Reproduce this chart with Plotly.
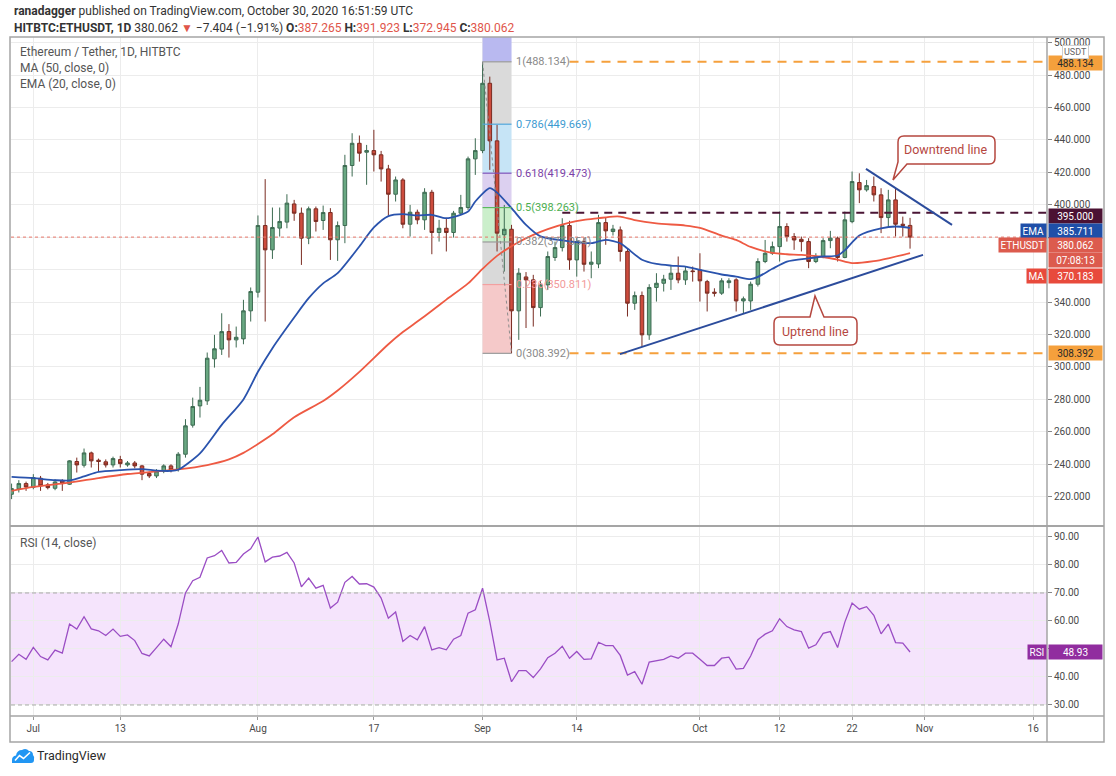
import plotly.graph_objects as go
import pandas as pd

# ---------------- data ----------------
dates = pd.date_range("2020-06-28", "2020-10-30", freq="D").strftime("%Y-%m-%d").tolist()

opens = [221.5, 224.8, 228.1,
         225.8, 231.4, 227.3, 225.2, 229.7, 227.7, 241.7, 239.4, 247.0, 242.5,
         241.5, 239.6, 242.9, 239.6, 240.8, 239.0, 234.3, 232.8, 235.9, 239.0,
         236.9, 246.2, 264.1, 276.0, 279.1, 305.0, 311.0, 321.8, 316.7, 317.3,
         334.6,
         346.1, 387.2, 372.2, 385.6, 389.3, 400.5, 394.8, 379.4, 397.5, 390.3,
         395.2, 378.4, 387.2, 424.2, 437.9, 432.4, 433.4, 430.8, 422.1, 406.5,
         415.3, 388.0, 395.4, 390.7, 407.7, 382.9, 385.5, 382.9, 394.8, 398.3,
         428.3,
         433.4, 474.9, 439.4, 381.5, 384.9, 334.6, 355.5, 353.7, 336.6, 350.6,
         367.5, 373.6, 387.2, 366.0, 377.3, 363.3, 363.5, 389.0, 383.5, 384.5,
         371.2, 339.3, 344.0, 319.8, 349.0, 351.6, 354.1, 357.8, 353.7, 359.2,
         359.8, 352.6, 346.1, 345.5, 352.0, 353.7, 340.7, 340.7, 351.0, 365.0,
         370.1, 374.2, 386.6, 380.4, 378.7, 377.3, 365.0, 368.1, 377.9, 379.4,
         367.5, 389.6, 413.7, 409.2, 411.2, 406.1, 392.1, 403.0, 388.0, 387.265]

highs = [228.1, 230.2, 229.3,
         233.9, 232.8, 228.5, 230.8, 230.8, 242.5, 244.1, 249.7, 247.8, 243.5,
         243.0, 244.7, 245.2, 242.0, 242.0, 239.6, 235.5, 237.0, 240.0, 240.0,
         247.5, 267.8, 281.1, 287.7, 308.9, 319.8, 333.1, 326.4, 324.9, 341.4,
         349.0,
         393.4, 415.8, 398.3, 398.3, 406.5, 403.0, 398.3, 398.9, 398.9, 399.5,
         397.9, 389.7, 430.8, 444.1, 442.7, 436.9, 446.2, 433.2, 424.6, 417.4,
         416.4, 399.9, 397.0, 410.2, 409.2, 390.7, 391.7, 396.2, 406.1, 429.7,
         441.0,
         488.134, 479.0, 449.3, 399.9, 387.6, 360.9, 358.5, 356.8, 353.1, 371.2,
         377.3, 391.7, 390.1, 379.4, 379.8, 371.2, 393.8, 392.1, 387.6, 386.6,
         373.2, 346.5, 346.5, 351.0, 357.8, 356.8, 362.9, 368.1, 361.9, 361.9,
         370.1, 353.7, 348.5, 354.7, 354.7, 354.7, 343.4, 352.6, 367.0, 378.3,
         377.3, 395.8, 388.6, 382.5, 380.4, 379.4, 370.1, 379.4, 383.9, 380.4,
         395.8, 420.5, 419.4, 415.3, 417.4, 410.2, 409.2, 410.2, 392.7, 391.923]

lows = [218.5, 222.6, 223.6,
        224.6, 223.6, 224.5, 224.0, 223.6, 227.3, 234.9, 238.0, 238.0, 235.5,
        238.0, 238.0, 238.0, 238.5, 237.5, 230.2, 231.5, 231.5, 234.5, 235.0,
        235.5, 244.1, 262.6, 268.8, 276.6, 299.6, 307.4, 305.8, 312.0, 314.0,
        328.0,
        342.8, 328.0, 366.6, 380.4, 385.5, 390.1, 362.9, 375.7, 383.5, 384.5,
        366.0, 365.4, 376.3, 417.4, 426.6, 412.3, 420.5, 414.3, 393.4, 402.0,
        385.5, 380.4, 388.0, 384.5, 369.5, 377.3, 371.2, 379.8, 393.8, 396.8,
        418.4,
        431.8, 421.5, 371.2, 358.8, 308.392, 316.7, 324.0, 324.9, 331.1, 347.5,
        365.4, 371.2, 359.9, 355.7, 358.8, 354.7, 360.9, 375.3, 381.0, 365.0,
        331.1, 335.2, 312.6, 316.7, 340.3, 346.5, 347.5, 351.6, 350.6, 352.6,
        340.3, 334.2, 343.4, 344.4, 348.5, 334.2, 333.1, 335.2, 349.6, 364.0,
        369.1, 365.0, 377.3, 372.2, 371.2, 360.9, 364.0, 367.0, 373.2, 365.0,
        367.0, 388.6, 401.0, 408.1, 402.0, 382.5, 386.6, 380.4, 380.4, 372.945]

closes = [225.0, 228.1, 226.0,
          231.8, 226.7, 225.6, 229.1, 228.1, 242.1, 239.6, 247.0, 242.1, 241.7,
          239.6, 243.5, 240.4, 240.8, 239.0, 233.9, 232.8, 235.9, 239.0, 236.5,
          246.2, 263.7, 275.6, 279.5, 305.4, 311.2, 321.8, 316.7, 318.3, 334.6,
          346.5,
          387.2, 372.2, 386.0, 389.7, 401.0, 394.8, 379.4, 397.5, 389.7, 395.2,
          378.4, 387.2, 424.2, 437.9, 431.8, 433.4, 430.8, 422.1, 406.5, 415.3,
          388.0, 395.4, 390.7, 407.7, 382.9, 385.5, 382.9, 394.8, 398.3, 428.3,
          433.4,
          474.9, 439.4, 382.5, 384.9, 334.6, 357.8, 353.7, 336.6, 350.6, 368.1,
          373.6, 387.2, 366.0, 377.3, 363.3, 364.6, 389.0, 383.9, 385.0, 371.2,
          339.3, 344.0, 319.8, 349.0, 351.6, 354.1, 357.8, 353.7, 359.2, 358.8,
          353.1, 345.5, 345.5, 353.1, 353.1, 340.7, 342.0, 351.0, 365.0, 370.1,
          374.2, 386.6, 380.4, 378.3, 377.3, 365.0, 368.1, 377.9, 379.4, 367.5,
          390.7, 414.3, 409.2, 411.8, 406.1, 392.1, 403.0, 388.0, 387.2, 380.062]

ema_dates = ["2020-06-28", "2020-07-01", "2020-07-04", "2020-07-06", "2020-07-08", "2020-07-10",
             "2020-07-13", "2020-07-16", "2020-07-18", "2020-07-20", "2020-07-21", "2020-07-24",
             "2020-07-27", "2020-07-30", "2020-08-01", "2020-08-03", "2020-08-06", "2020-08-08",
             "2020-08-10", "2020-08-12", "2020-08-15", "2020-08-17", "2020-08-19", "2020-08-21",
             "2020-08-23", "2020-08-25", "2020-08-27", "2020-08-30", "2020-08-31", "2020-09-02",
             "2020-09-03", "2020-09-05", "2020-09-07", "2020-09-09", "2020-09-12", "2020-09-14",
             "2020-09-16", "2020-09-18", "2020-09-20", "2020-09-21", "2020-09-23", "2020-09-25",
             "2020-09-27", "2020-09-29", "2020-10-01", "2020-10-04", "2020-10-06", "2020-10-08",
             "2020-10-09", "2020-10-11", "2020-10-13", "2020-10-16", "2020-10-18", "2020-10-20",
             "2020-10-21", "2020-10-23", "2020-10-26", "2020-10-28", "2020-10-30"]
ema_vals = [232.2, 231.4, 230.2, 230.0, 232.5, 235.3,
            236.4, 237.0, 236.1, 235.9, 236.6, 246.7,
            264.3, 280.0, 297.0, 311.6, 330.5, 342.4,
            351.5, 357.8, 374.3, 386.0, 393.0, 394.2,
            393.4, 393.8, 391.7, 395.8, 402.0, 410.2,
            407.5, 397.9, 387.6, 380.5, 378.0, 376.9,
            376.3, 378.4, 376.3, 373.0, 366.1, 363.5,
            362.5, 361.9, 359.8, 357.0, 355.7, 354.1,
            355.5, 360.5, 365.0, 367.0, 368.1, 368.7,
            372.0, 381.1, 385.5, 386.6, 385.7]

ma_dates = ["2020-06-28", "2020-07-01", "2020-07-06", "2020-07-10", "2020-07-14", "2020-07-18",
            "2020-07-21", "2020-07-25", "2020-07-28", "2020-07-30", "2020-08-01", "2020-08-03",
            "2020-08-06", "2020-08-10", "2020-08-12", "2020-08-15", "2020-08-19", "2020-08-21",
            "2020-08-23", "2020-08-25", "2020-08-27", "2020-08-30", "2020-09-01", "2020-09-03",
            "2020-09-06", "2020-09-08", "2020-09-10", "2020-09-13", "2020-09-15", "2020-09-17",
            "2020-09-19", "2020-09-20", "2020-09-22", "2020-09-25", "2020-09-29", "2020-10-01",
            "2020-10-04", "2020-10-06", "2020-10-08", "2020-10-11", "2020-10-13", "2020-10-15",
            "2020-10-18", "2020-10-20", "2020-10-22", "2020-10-25", "2020-10-27", "2020-10-30"]
ma_vals = [223.6, 226.0, 228.7, 231.5, 234.0, 235.6,
           236.8, 239.5, 243.0, 247.0, 252.5, 258.5,
           269.0, 279.0, 285.5, 297.0, 314.0, 321.5,
           328.0, 334.6, 341.5, 351.5, 360.5, 368.5,
           377.0, 381.4, 385.0, 389.0, 390.7, 391.7,
           392.7, 392.7, 390.5, 388.5, 387.2, 385.8,
           381.0, 378.3, 374.0, 370.3, 369.5, 369.1,
           367.8, 366.1, 364.0, 365.2, 367.0, 370.2]

rsi_vals = [45.5, 48.1, 46.3,
            50.6, 47.3, 46.1, 49.6, 48.5, 58.9, 57.1, 61.5, 57.2, 56.5,
            54.8, 57.1, 54.5, 55.0, 53.0, 48.4, 47.5, 50.5, 53.5, 50.8,
            58.9, 70.0, 74.4, 75.6, 82.5, 83.3, 85.2, 80.7, 80.9, 83.9,
            85.8,
            90.0, 81.1, 82.8, 83.2, 84.5, 80.7, 72.2, 75.3, 71.7, 72.7,
            64.6, 66.7, 73.8, 75.9, 73.2, 73.3, 72.1, 68.2, 61.0, 63.2,
            52.7, 54.8, 53.3, 58.0, 49.7, 50.5, 49.7, 53.5, 54.8, 62.8,
            64.0,
            71.7, 59.8, 46.1, 46.7, 38.3, 42.3, 42.3, 39.8, 42.9, 46.9,
            48.5, 51.0, 46.7, 49.1, 46.3, 46.5, 52.4, 51.2, 51.2, 47.7,
            40.7, 41.9, 37.4, 45.3, 45.9, 46.3, 47.5, 46.7, 48.5, 48.5,
            46.3, 44.1, 44.1, 46.7, 47.1, 42.8, 43.1, 47.5, 53.3, 55.3,
            56.5, 60.8, 58.0, 56.8, 56.2, 50.3, 51.5, 55.6, 56.2, 50.5,
            59.6, 66.4, 64.2, 65.1, 62.0, 55.4, 58.9, 52.3, 52.1, 48.93]

fib_names = ["0", "0.236", "0.382", "0.5", "0.618", "0.786", "1"]
fib_prices = [308.392, 350.811, 377.054, 398.263, 419.473, 449.669, 488.134]
fib_start, fib_end = "2020-09-01", "2020-09-05"

resistance = 395.000
ema_last = 385.711
ma_last = 370.183
rsi_last = 48.93
countdown = "07:08:13"
day_change = -7.404
day_change_pct = -1.91

downtrend = (["2020-10-23 22:00", "2020-11-04 19:00"], [422.1, 387.6])
uptrend = (["2020-09-19 23:00", "2020-10-31 19:00"], [307.9, 369.1])

tick_dates = ["2020-07-01", "2020-07-13", "2020-08-01", "2020-08-17", "2020-09-01", "2020-09-14",
              "2020-10-01", "2020-10-12", "2020-10-22", "2020-11-01", "2020-11-16"]
tick_text = ["Jul", "13", "Aug", "17", "Sep", "14", "Oct", "12", "22", "Nov", "16"]
price_ticks = [220, 240, 260, 280, 300, 320, 340, 360, 380, 400, 420, 440, 460, 480, 500]
price_tick_text = ["220.000", "240.000", "260.000", "280.000", "300.000", "320.000", "340.000",
                   "", "", "400.000", "420.000", "440.000", "460.000", "480.000", "500.000"]
rsi_ticks = [30, 40, 50, 60, 70, 80, 90]
rsi_tick_text = ["30.00", "40.00", "", "60.00", "70.00", "80.00", "90.00"]

# ---------------- layout geometry ----------------
W, H = 1116, 776
L, R, T, B = 11, 1047, 37, 716
PW, PH = R - L, B - T
X_RANGE = ["2020-06-27 22:05", "2020-11-17 21:36"]
Y_RANGE = [202.56, 503.43]
RSI_RANGE = [26.07, 93.57]
FONT = "Roboto"
GRID = "#ececec"


def PX(x):
    return (x - L) / PW


def PY(y):
    return (B - y) / PH


def path(cmds):
    out = []
    for c, pts in cmds:
        out.append(c + " " + " ".join(f"{PX(x):.5f},{PY(y):.5f}" for x, y in pts))
    return " ".join(out) + " Z"


fig = go.Figure()

fig.add_trace(go.Candlestick(
    x=dates, open=opens, high=highs, low=lows, close=closes,
    increasing=dict(line=dict(color="#3d6b52", width=1), fillcolor="#69a882"),
    decreasing=dict(line=dict(color="#7a2c22", width=1), fillcolor="#cd4c3d"),
    xaxis="x", yaxis="y", hoverinfo="skip", name="ETHUSDT"))

fig.add_trace(go.Scatter(x=ma_dates, y=ma_vals, mode="lines", xaxis="x", yaxis="y",
                         line=dict(color="#ee5a43", width=1.8, shape="spline", smoothing=0.7),
                         hoverinfo="skip", name="MA"))
fig.add_trace(go.Scatter(x=ema_dates, y=ema_vals, mode="lines", xaxis="x", yaxis="y",
                         line=dict(color="#2a53ad", width=1.8, shape="spline", smoothing=0.7),
                         hoverinfo="skip", name="EMA"))

fig.add_trace(go.Scatter(x=dates, y=rsi_vals, mode="lines", xaxis="x2", yaxis="y2",
                         line=dict(color="#9a4dc4", width=1.3), hoverinfo="skip", name="RSI"))

shapes = []
# RSI band
shapes.append(dict(type="rect", xref="paper", yref="y2", x0=0, x1=1, y0=30, y1=70,
                   fillcolor="#f5e4fc", line=dict(width=0), layer="below"))
for lv in (30, 70):
    shapes.append(dict(type="line", xref="paper", yref="y2", x0=0, x1=1, y0=lv, y1=lv,
                       line=dict(color="#a8a8a8", width=1, dash="4px,3px")))

# Fibonacci zones
fib_fills = ["#f5c9c9", "#d9d9d9", "#cbefcb", "#dcd0f0", "#c6e4f6", "#dadada"]
fib_lines = ["#9a9a9a", "#f2a0a0", "#9a9a9a", "#5cb860", "#7e4fb8", "#4ea6dc", "#9a9a9a"]
fib_text = ["#8a8a8a", "#f29a9a", "#8a8a8a", "#4caf50", "#7b3fa8", "#3d9ad1", "#8a8a8a"]
shapes.append(dict(type="rect", xref="x", yref="y", x0=fib_start, x1=fib_end,
                   y0=fib_prices[-1], y1=Y_RANGE[1], fillcolor="#b9b9f0",
                   line=dict(width=0), layer="between"))
for i in range(len(fib_prices) - 1):
    shapes.append(dict(type="rect", xref="x", yref="y", x0=fib_start, x1=fib_end,
                       y0=fib_prices[i], y1=fib_prices[i + 1], fillcolor=fib_fills[i],
                       line=dict(width=0), layer="between"))
for i, p in enumerate(fib_prices):
    shapes.append(dict(type="line", xref="x", yref="y", x0=fib_start, x1=fib_end, y0=p, y1=p,
                       line=dict(color=fib_lines[i], width=1.2)))
shapes.append(dict(type="line", xref="x", yref="y", x0=fib_start, x1=fib_end,
                   y0=fib_prices[-1], y1=fib_prices[0],
                   line=dict(color="#8c8c8c", width=1, dash="3px,3px")))

# current price dotted line
shapes.append(dict(type="line", xref="paper", yref="y", x0=0, x1=1, y0=closes[-1], y1=closes[-1],
                   line=dict(color="#e8776b", width=1, dash="dot")))
# horizontal levels
shapes.append(dict(type="line", xref="x", yref="y", x0="2020-09-12", x1=X_RANGE[1],
                   y0=resistance, y1=resistance, line=dict(color="#4a1535", width=2, dash="8px,6px")))
for p in (fib_prices[-1], fib_prices[0]):
    shapes.append(dict(type="line", xref="x", yref="y", x0="2020-09-13", x1=X_RANGE[1],
                       y0=p, y1=p, line=dict(color="#f5a03c", width=2, dash="9px,7px")))
# trend lines
for tl in (downtrend, uptrend):
    shapes.append(dict(type="line", xref="x", yref="y", x0=tl[0][0], x1=tl[0][1],
                       y0=tl[1][0], y1=tl[1][1], line=dict(color="#2c4c9c", width=2)))

# callouts
CALL = "#b5473f"
shapes.append(dict(type="path", xref="paper", yref="paper", fillcolor="white",
                   line=dict(color=CALL, width=1.5),
                   path=path([("M", [(904, 136)]), ("L", [(989, 136)]), ("Q", [(995, 136), (995, 142)]),
                              ("L", [(995, 158)]), ("Q", [(995, 164), (989, 164)]), ("L", [(907, 164)]),
                              ("L", [(893, 180)]), ("L", [(898, 162)]), ("L", [(898, 142)]),
                              ("Q", [(898, 136), (904, 136)])])))
shapes.append(dict(type="path", xref="paper", yref="paper", fillcolor="white",
                   line=dict(color=CALL, width=1.5),
                   path=path([("M", [(780, 317)]), ("L", [(810, 317)]), ("L", [(815, 296)]),
                              ("L", [(824, 317)]), ("L", [(851, 317)]), ("Q", [(857, 317), (857, 323)]),
                              ("L", [(857, 339)]), ("Q", [(857, 345), (851, 345)]), ("L", [(780, 345)]),
                              ("Q", [(774, 345), (774, 339)]), ("L", [(774, 323)]),
                              ("Q", [(774, 317), (780, 317)])])))

# frame
FR = "#a5a5a5"
shapes.append(dict(type="rect", xref="paper", yref="paper", x0=PX(10), x1=PX(1104), y0=PY(742), y1=PY(37),
                   line=dict(color=FR, width=1.5)))
shapes.append(dict(type="line", xref="paper", yref="paper", x0=PX(10), x1=PX(1104), y0=PY(526), y1=PY(526),
                   line=dict(color=FR, width=2)))
shapes.append(dict(type="line", xref="paper", yref="paper", x0=PX(10), x1=PX(1104), y0=PY(716), y1=PY(716),
                   line=dict(color=FR, width=1.5)))
shapes.append(dict(type="line", xref="paper", yref="paper", x0=PX(1047), x1=PX(1047), y0=PY(742), y1=PY(37),
                   line=dict(color=FR, width=1.5)))

# TradingView logo
shapes.append(dict(type="path", xref="paper", yref="paper", fillcolor="#2196f3", line=dict(width=0),
                   path=path([("M", [(12, 763)]), ("L", [(12, 760)]), ("Q", [(12, 756), (16, 755.5)]),
                              ("Q", [(17, 750), (22, 750)]), ("Q", [(26, 747.5), (29, 751)]),
                              ("Q", [(33, 751), (33, 755)]), ("Q", [(35, 757), (34, 760)]),
                              ("Q", [(34, 763), (31, 763)])])))
shapes.append(dict(type="path", xref="paper", yref="paper", line=dict(color="white", width=1.6),
                   path="M " + " L ".join(f"{PX(x):.5f},{PY(y):.5f}" for x, y in
                                          [(15, 760.5), (19.5, 755.5), (23.5, 758.5), (30, 752.5)])))

ann = []


def txt(x, y, text, size=11, color="#4a4a4a", xanchor="left", **kw):
    ann.append(dict(x=PX(x), y=PY(y), xref="paper", yref="paper", text=text, showarrow=False,
                    xanchor=xanchor, yanchor="middle", font=dict(family=FONT, size=size, color=color), **kw))


RED = "#e0554a"
txt(12, 11, "<b>ranadagger</b> published on TradingView.com, October 30, 2020 16:51:59 UTC", 12, "#333")
txt(12, 28, f"<b>HITBTC:ETHUSDT, 1D</b> {closes[-1]:.3f} <span style='color:{RED}'>▼</span> "
            f"−{abs(day_change):.3f} (−{abs(day_change_pct):.2f}%) "
            f"<b>O:</b><span style='color:{RED}'>{opens[-1]:.3f}</span> "
            f"<b>H:</b><span style='color:{RED}'>{highs[-1]:.3f}</span> "
            f"<b>L:</b><span style='color:{RED}'>{lows[-1]:.3f}</span> "
            f"<b>C:</b><span style='color:{RED}'>{closes[-1]:.3f}</span>", 12, "#333")
txt(18, 52, "Ethereum / Tether, 1D, HITBTC", 12, "#555")
txt(18, 68, "MA (50, close, 0)", 12, "#555")
txt(18, 84, "EMA (20, close, 0)", 12, "#555")
txt(18, 543, "RSI (14, close)", 12, "#555")
txt(946, 150, "Downtrend line", 12.5, CALL, xanchor="center")
txt(815.5, 331, "Uptrend line", 12.5, CALL, xanchor="center")
txt(35, 755, "TradingView", 12.5, "#2a2a2a")

# fib labels
for i, p in enumerate(fib_prices):
    ann.append(dict(x=fib_end, y=p, xref="x", yref="y", xanchor="left", yanchor="middle", xshift=2,
                    text=f"{fib_names[i]}({p:.3f})", showarrow=False,
                    font=dict(family=FONT, size=11, color=fib_text[i])))


def tag(text, yv, bg, fg="white", yshift=0.0, side="right", yref="y", width=50):
    d = dict(x=1, y=yv, xref="paper", yref=yref, text=text, showarrow=False, bgcolor=bg,
             font=dict(family=FONT, size=10, color=fg), yanchor="middle", yshift=yshift, borderpad=1.5)
    if side == "right":
        d.update(xanchor="left", xshift=1, width=width, align="center")
    else:
        d.update(xanchor="right", xshift=0)
    ann.append(d)


ORANGE = "#f5a03c"
tag(f"{fib_prices[-1]:.3f}", fib_prices[-1], ORANGE, "#2a2a2a", -1.5)
tag(f"{resistance:.3f}", resistance, "#4b1233", "white", -3.0)
tag(f"{ema_last:.3f}", ema_last, "#1f4fa8", "white", -3.0)
tag("EMA", ema_last, "#1f4fa8", "white", -3.0, side="left")
tag(f"{closes[-1]:.3f}", closes[-1], "#dc5b4e", "white", -7.5)
tag("ETHUSDT", closes[-1], "#dc5b4e", "white", -7.5, side="left")
tag(countdown, closes[-1], "#dc5b4e", "white", -22.8)
tag(f"{ma_last:.3f}", ma_last, "#e84a3c", "white", -22.9)
tag("MA", ma_last, "#e84a3c", "white", -22.9, side="left")
tag(f"{fib_prices[0]:.3f}", fib_prices[0], ORANGE, "#2a2a2a", 0)
tag(f"{rsi_last:.2f}", rsi_last, "#912d9f", "white", 0, yref="y2")
tag("RSI", rsi_last, "#912d9f", "white", 0, side="left", yref="y2")
ann.append(dict(x=PX(1075), y=PY(52), xref="paper", yref="paper", text="USDT", showarrow=False,
                xanchor="center", yanchor="middle", bgcolor="white", bordercolor="#cfcfcf", borderwidth=1,
                borderpad=1, font=dict(family=FONT, size=9, color="#666")))

axis_font = dict(family=FONT, size=10, color="#4a4a4a")
fig.update_layout(
    width=W, height=H, margin=dict(l=L, r=W - R, t=T, b=H - B),
    paper_bgcolor="white", plot_bgcolor="white", showlegend=False,
    xaxis=dict(domain=[0, 1], anchor="y", type="date", range=X_RANGE, tickvals=tick_dates,
               showticklabels=False, showgrid=True, gridcolor=GRID, zeroline=False, ticks="",
               rangeslider=dict(visible=False), fixedrange=True),
    xaxis2=dict(domain=[0, 1], anchor="y2", type="date", range=X_RANGE, matches="x", tickvals=tick_dates,
                ticktext=tick_text, showgrid=True, gridcolor=GRID, zeroline=False, ticks="outside",
                ticklen=3, tickcolor="#999", tickfont=axis_font, rangeslider=dict(visible=False)),
    yaxis=dict(domain=[0.2813, 1], anchor="x", side="right", range=Y_RANGE, tickvals=price_ticks,
               ticktext=price_tick_text, ticks="outside", ticklen=4, tickcolor="#888", showgrid=True,
               gridcolor=GRID, zeroline=False, tickfont=axis_font),
    yaxis2=dict(domain=[0, 0.2784], anchor="x2", side="right", range=RSI_RANGE, tickvals=rsi_ticks,
                ticktext=rsi_tick_text, ticks="outside", ticklen=4, tickcolor="#888", showgrid=True,
                gridcolor=GRID, zeroline=False, tickfont=axis_font),
    shapes=shapes, annotations=ann,
)

fig.write_html("out.html", config={"displayModeBar": False},
               post_script="document.body.style.margin='0px';document.body.style.overflow='hidden';")
